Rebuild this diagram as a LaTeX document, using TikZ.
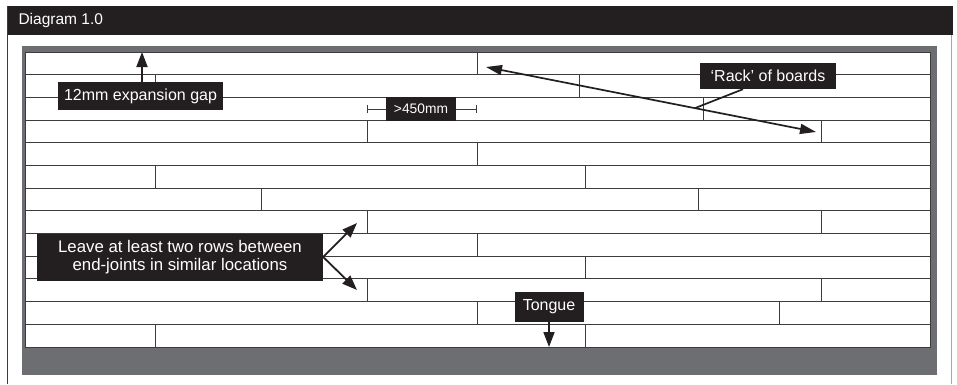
\documentclass[tikz,border=0pt]{standalone}
\usepackage{fontspec}
\setmainfont{Liberation Sans}
\usetikzlibrary{arrows.meta, calc, positioning}
\definecolor{barblack}{HTML}{231F20}
\definecolor{framegray}{HTML}{6D6E71}
\definecolor{seamgray}{HTML}{3C3C3C}

\begin{document}
\begin{tikzpicture}[x=1pt, y=-1pt,
        lbl/.style={fill=barblack, text=white, inner sep=0pt, align=center, font=\fontsize{16}{18.5}\selectfont},
        seam/.style={draw=seamgray, line width=0.9pt},
        pointer/.style={draw=barblack, line width=1.8pt, -{Triangle[width=11pt,length=15pt]}},
        twoway/.style={draw=barblack, line width=1.7pt, {Triangle[width=10pt,length=16pt]}-{Triangle[width=10pt,length=16pt]}}]

        \useasboundingbox (0,0) rectangle (957,384);

        % Khung ngoai va thanh tieu de
        \draw[seamgray, line width=0.8pt] (7.5,6) -- (7.5,384); % canh trai
        \draw[gray!70, line width=1pt] (951.5,35) -- (951.5,384); % canh phai
        \fill[barblack] (7.5,6) rectangle (952.5,35);
        \node[anchor=west, text=white, font=\fontsize{15.5}{18}\selectfont] (title) at (15,20.5) {Diagram 1.0};

        % Khung xam va san go
        \fill[framegray] (22,46) rectangle (937,375);
        \draw[seam, fill=white] (25,52) rectangle (930,347);

        % Cac hang van san (duong ngang + moi noi)
        \draw[seam] (25,74.7) -- (930,74.7) (477,52) -- (477,74.7); % hang 1
        \draw[seam] (25,97.4) -- (930,97.4) (155,74.7) -- (155,97.4) (579,74.7) -- (579,97.4); % hang 2
        \draw[seam] (25,120.1) -- (930,120.1) (703,97.4) -- (703,120.1); % hang 3
        \draw[seam] (25,142.8) -- (930,142.8) (367,120.1) -- (367,142.8) (821,120.1) -- (821,142.8); % hang 4
        \draw[seam] (25,165.5) -- (930,165.5) (477,142.8) -- (477,165.5); % hang 5
        \draw[seam] (25,188.2) -- (930,188.2) (155,165.5) -- (155,188.2) (585,165.5) -- (585,188.2); % hang 6
        \draw[seam] (25,210.8) -- (930,210.8) (261,188.2) -- (261,210.8) (698,188.2) -- (698,210.8); % hang 7
        \draw[seam] (25,233.5) -- (930,233.5) (367,210.8) -- (367,233.5) (821,210.8) -- (821,233.5); % hang 8
        \draw[seam] (25,256.2) -- (930,256.2) (477,233.5) -- (477,256.2); % hang 9
        \draw[seam] (25,278.9) -- (930,278.9) (585,256.2) -- (585,278.9); % hang 10
        \draw[seam] (25,301.6) -- (930,301.6) (367,278.9) -- (367,301.6) (821,278.9) -- (821,301.6); % hang 11
        \draw[seam] (25,324.3) -- (930,324.3) (477,301.6) -- (477,324.3) (779,301.6) -- (779,324.3); % hang 12
        \draw[seam] (155,324.3) -- (155,347) (585,324.3) -- (585,347); % hang 13

        % Khe gian no
        \node[lbl, minimum width=165pt, minimum height=28pt] (gap) at (140.5,96) {12mm expansion gap};
        \coordinate (gaptip) at (142,52);
        \draw[pointer] (gap.north -| gaptip) -- (gaptip);

        % Khoang cach toi thieu
        \coordinate (dimL) at (367,109);
        \coordinate (dimR) at (477,109);
        \draw[seam, {Bar[width=8pt]}-{Bar[width=8pt]}] (dimL) -- (dimR);
        \node[lbl, font=\fontsize{13.8}{16}\selectfont, minimum width=70pt, minimum height=24pt] (minlen) at (421,109) {>450mm};

        % Rack
        \node[lbl, minimum width=136pt, minimum height=26pt] (rack) at (768,76) {`Rack' of boards};
        \coordinate (rackA) at (486,67);
        \coordinate (rackB) at (816,132);
        \draw[twoway] (rackA) -- (rackB);
        \draw[draw=barblack, line width=1.7pt] ([xshift=-25pt]rack.south) -- ($(rackA)!0.633!(rackB)$);

        % Moi noi dau van
        \node[lbl, font=\fontsize{16.8}{18.7}\selectfont, minimum width=286pt, minimum height=47pt] (rows) at (180,257) {Leave at least two rows between\\end-joints in similar locations};
        \coordinate (jointA) at (357,223);
        \coordinate (jointB) at (357,290);
        \draw[pointer] (rows.east) -- (jointA);
        \draw[pointer] (rows.east) -- (jointB);

        % Luoi
        \node[lbl, minimum width=69pt, minimum height=30pt] (tongue) at (549,307) {Tongue};
        \coordinate (tonguetip) at (549,347);
        \draw[pointer] (tongue.south) -- (tonguetip);

\end{tikzpicture}
\end{document}
